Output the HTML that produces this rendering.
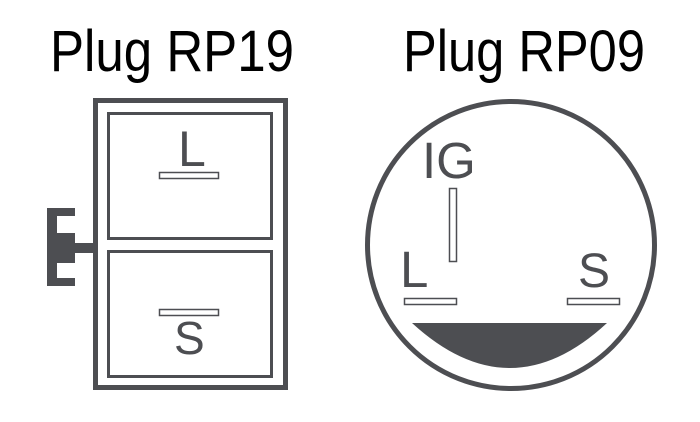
<!DOCTYPE html>
<html><head><meta charset="utf-8"><style>html,body{margin:0;padding:0;background:#fff;}svg{display:block}</style></head>
<body>
<svg width="700" height="422" viewBox="0 0 700 422" xmlns="http://www.w3.org/2000/svg">
<g font-family="Liberation Sans, Arial, sans-serif">
<text x="50" y="71" font-size="58" fill="#000" textLength="244" lengthAdjust="spacingAndGlyphs">Plug RP19</text>
<text x="403" y="71" font-size="58" fill="#000" textLength="242" lengthAdjust="spacingAndGlyphs">Plug RP09</text>
</g>
<g fill="none" stroke="#4d4e52">
<rect x="95.5" y="100.5" width="190" height="287" stroke-width="5"/>
<rect x="108.5" y="113.5" width="163" height="125" stroke-width="3"/>
<rect x="108.5" y="251.5" width="163" height="125" stroke-width="3"/>
<circle cx="511" cy="245" r="143.5" stroke-width="5"/>
</g>
<g fill="#4d4e52">
<rect x="47" y="208" width="10" height="78"/>
<rect x="47" y="208" width="28" height="8"/>
<rect x="47" y="278" width="28" height="8"/>
<rect x="47" y="233" width="28" height="30"/>
<rect x="70" y="243" width="25" height="10"/>
<path d="M412,323 L607,323 Q510,413 412,323 Z"/>
</g>
<g fill="#fff" stroke="#4d4e52" stroke-width="1.5">
<rect x="159.5" y="172.5" width="59" height="6"/>
<rect x="159.5" y="309.5" width="59" height="6"/>
<rect x="449.5" y="188.5" width="7" height="73"/>
<rect x="404.5" y="298.5" width="52" height="6"/>
<rect x="567.5" y="298.5" width="52" height="6"/>
</g>
<g font-family="Liberation Sans, Arial, sans-serif" fill="#4d4e52">
<text x="178" y="166" font-size="50">L</text>
<text x="174" y="354" font-size="46">S</text>
<text x="422" y="178" font-size="51">IG</text>
<text x="400" y="287" font-size="51">L</text>
<text x="578" y="287" font-size="48">S</text>
</g>
</svg>
</body></html>
